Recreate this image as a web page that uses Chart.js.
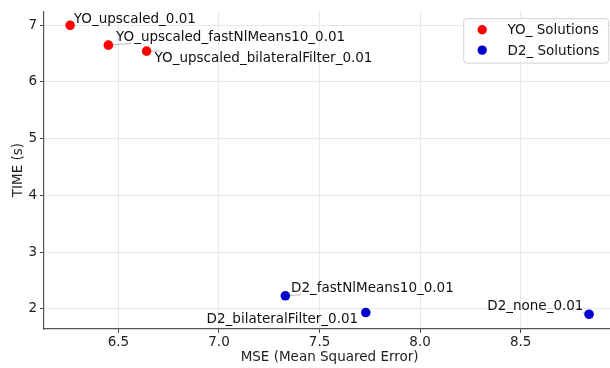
<!DOCTYPE html>
<html>
<head>
<meta charset="utf-8">
<script src="https://cdn.jsdelivr.net/npm/chart.js@4/dist/chart.umd.min.js"></script>
<style>
  html, body { margin: 0; padding: 0; background: #fff; overflow: hidden; }
  #wrap { width: 620px; height: 368px; }
</style>
</head>
<body>
<div id="wrap"><canvas id="c" width="620" height="368"></canvas></div>
<script>
// Solution runs: mean squared error vs. processing time
const yoNames = ["YO_upscaled_0.01", "YO_upscaled_fastNlMeans10_0.01", "YO_upscaled_bilateralFilter_0.01"];
const yoMse   = [6.26, 6.45, 6.64];
const yoTime  = [7.00, 6.65, 6.545];

const d2Names = ["D2_fastNlMeans10_0.01", "D2_bilateralFilter_0.01", "D2_none_0.01"];
const d2Mse   = [7.33, 7.73, 8.84];
const d2Time  = [2.23, 1.935, 1.905];

const seriesLabels = ["YO_ Solutions", "D2_ Solutions"];
const xTicks = [6.5, 7.0, 7.5, 8.0, 8.5];
const yTicks = [2, 3, 4, 5, 6, 7];

const FONT = "DejaVu Sans";
const FS = 13.5;

// Text placement for each point label (pixel offsets from the marker),
// plus the short leader line drawn from the marker toward its label.
const labelLayout = {
  0: [
    { dx: 3.6, dy: -2.6, align: "left" },
    { dx: 7.7, dy: -4.0, align: "left", lead: [23, -1.8] },
    { dx: 8.0, dy: 10.7, align: "left", lead: [14, 0] }
  ],
  1: [
    { dx: 5.7, dy: -4.3, align: "left", lead: [15.7, -1] },
    { dx: -7.7, dy: 10.3, align: "right" },
    { dx: -5.6, dy: -4.3, align: "right", lead: [-6, -2] }
  ]
};

function toPoints(xs, ys) { return xs.map((x, i) => ({ x: x, y: ys[i] })); }

const pointLabels = {
  id: "pointLabels",
  beforeDatasetsDraw(chart) {
    const ctx = chart.ctx;
    ctx.save();
    ctx.strokeStyle = "#b8b8b8";
    ctx.lineWidth = 1;
    chart.data.datasets.forEach((ds, di) => {
      chart.getDatasetMeta(di).data.forEach((pt, i) => {
        const lay = labelLayout[di][i];
        if (!lay.lead) return;
        ctx.beginPath();
        ctx.moveTo(pt.x, pt.y);
        ctx.lineTo(pt.x + lay.lead[0], pt.y + lay.lead[1]);
        ctx.stroke();
      });
    });
    ctx.restore();
  },
  afterDatasetsDraw(chart) {
    const ctx = chart.ctx;
    ctx.save();
    ctx.font = FS + "px '" + FONT + "'";
    ctx.fillStyle = "#111";
    ctx.textBaseline = "alphabetic";
    chart.data.datasets.forEach((ds, di) => {
      chart.getDatasetMeta(di).data.forEach((pt, i) => {
        const lay = labelLayout[di][i];
        ctx.textAlign = lay.align;
        ctx.fillText(ds.names[i], pt.x + lay.dx, pt.y + lay.dy);
      });
    });
    ctx.restore();
  }
};

// Legend box in the upper right corner of the plot area
const cornerLegend = {
  id: "cornerLegend",
  afterDraw(chart) {
    const ctx = chart.ctx;
    const a = chart.chartArea;
    const right = a.right - 7, top = a.top + 7;
    const w = 145, h = 44.5;
    const left = right - w;
    ctx.save();
    ctx.beginPath();
    ctx.roundRect(left + 0.5, top + 0.5, w, h, 3);
    ctx.fillStyle = "rgba(255,255,255,0.85)";
    ctx.fill();
    ctx.strokeStyle = "#d4d4d4";
    ctx.lineWidth = 1;
    ctx.stroke();
    ctx.font = FS + "px '" + FONT + "'";
    ctx.textAlign = "left";
    ctx.textBaseline = "alphabetic";
    chart.data.datasets.forEach((ds, i) => {
      const cy = top + 11.6 + i * 20.4;
      ctx.beginPath();
      ctx.arc(left + 19, cy, 4.7, 0, Math.PI * 2);
      ctx.fillStyle = ds.backgroundColor;
      ctx.fill();
      ctx.fillStyle = "#111";
      ctx.fillText(ds.label, left + 44.3, cy + 4.4);
    });
    ctx.restore();
  }
};

new Chart(document.getElementById("c"), {
  type: "scatter",
  data: {
    datasets: [
      { label: seriesLabels[0], names: yoNames, data: toPoints(yoMse, yoTime),
        backgroundColor: "#ff0000", borderWidth: 0, pointRadius: 4.8 },
      { label: seriesLabels[1], names: d2Names, data: toPoints(d2Mse, d2Time),
        backgroundColor: "#0000cc", borderWidth: 0, pointRadius: 4.8 }
    ]
  },
  options: {
    responsive: false,
    animation: false,
    layout: { padding: { top: 9, right: 2, left: 0, bottom: 0 } },
    plugins: { legend: { display: false }, tooltip: { enabled: false } },
    scales: {
      x: {
        type: "linear",
        min: 6.13, max: 8.97,
        afterBuildTicks: s => { s.ticks = xTicks.map(v => ({ value: v })); },
        afterFit: s => { s.height = 39; },
        grid: { color: "#e8e8e8", lineWidth: 1, tickLength: 4, tickColor: "#444", tickWidth: 1 },
        border: { display: true, color: "#555", width: 1.2 },
        ticks: {
          padding: 1, color: "#222", font: { family: FONT, size: FS },
          maxRotation: 0, autoSkip: false,
          callback: v => Number(v).toFixed(1)
        },
        title: { display: true, text: "MSE (Mean Squared Error)", color: "#222",
                 font: { family: FONT, size: FS }, padding: { top: 2, bottom: 2 } }
      },
      y: {
        type: "linear",
        min: 1.645, max: 7.25,
        afterBuildTicks: s => { s.ticks = yTicks.map(v => ({ value: v })); },
        afterFit: s => { s.width = 44; },
        grid: { color: "#e8e8e8", lineWidth: 1, tickLength: 4, tickColor: "#444", tickWidth: 1 },
        border: { display: true, color: "#555", width: 1.2 },
        ticks: {
          padding: 3, color: "#222", font: { family: FONT, size: FS },
          autoSkip: false, callback: v => String(v)
        },
        title: { display: true, text: "TIME (s)", color: "#222",
                 font: { family: FONT, size: FS }, padding: { top: 10, bottom: 2 } }
      }
    }
  },
  plugins: [pointLabels, cornerLegend]
});
</script>
</body>
</html>
